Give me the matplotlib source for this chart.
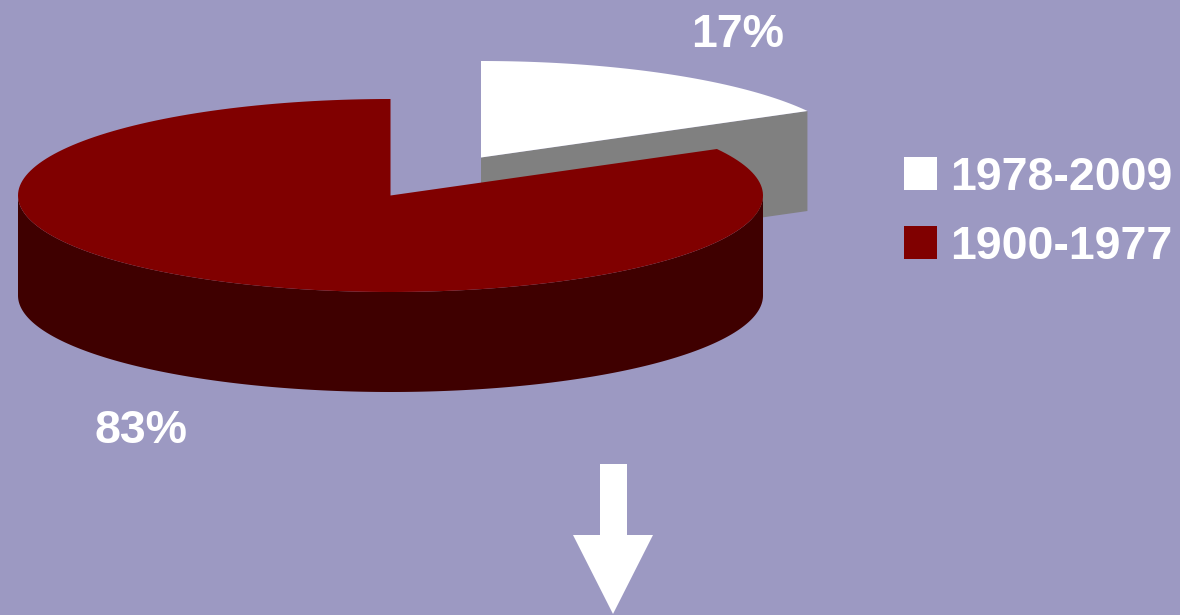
import numpy as np
import matplotlib
matplotlib.use('Agg')
import matplotlib.pyplot as plt
from matplotlib.patches import Patch, Polygon

plt.rcParams['font.family'] = ['Liberation Sans', 'DejaVu Sans']

# data
periods = ['1978-2009', '1900-1977']
shares = [17, 83]
pct_labels = ['17%', '83%']

BG = '#9c99c2'
WHITE = '#ffffff'
GREY = '#808080'
RED = '#800000'
DARK = '#3f0000'

# pie geometry, in pixels of the picture
rx, ry = 372.5, 96.5
depth = 100
cx, cy = 390.5, 195.5
off_x, off_y = 90.5, -38

fig = plt.figure(figsize=(11.8, 6.15), dpi=100, facecolor=BG)
ax = fig.add_axes([0, 0, 1, 1])
ax.set_xlim(0, 1180)
ax.set_ylim(615, 0)
ax.axis('off')


def rim(x0, y0, a, b):
    # a, b are degrees clockwise from 12 o'clock
    t = np.radians(np.linspace(a, b, 200))
    return np.column_stack([x0 + rx * np.sin(t), y0 - ry * np.cos(t)])


split = shares[0] / sum(shares) * 360

# white slice, pulled out: cut face first, then its top
wx, wy = cx + off_x, cy + off_y
edge = rim(wx, wy, split, split)[0]
ax.add_patch(Polygon([(wx, wy), edge, edge + [0, depth], (wx, wy + depth)],
                     color=GREY, lw=0, zorder=1))
ax.add_patch(Polygon(np.vstack([[(wx, wy)], rim(wx, wy, 0, split)]),
                     color=WHITE, lw=0, zorder=2))

# red slice: outer wall, then top
front = rim(cx, cy, 90, 270)
wall = np.vstack([front, (front + [0, depth])[::-1]])
ax.add_patch(Polygon(wall, color=DARK, lw=0, zorder=3))
ax.add_patch(Polygon(np.vstack([[(cx, cy)], rim(cx, cy, split, 360)]),
                     color=RED, lw=0, zorder=4))

# percent labels
ax.text(737.5, 35, pct_labels[0], color='white', fontsize=33.5, fontweight='bold',
        ha='center', va='center')
ax.text(140.5, 431, pct_labels[1], color='white', fontsize=33.5, fontweight='bold',
        ha='center', va='center')

# legend
handles = [Patch(facecolor=WHITE, edgecolor='none'), Patch(facecolor=RED, edgecolor='none')]
leg = ax.legend(handles, periods, loc='upper left', bbox_to_anchor=(904 / 1180, 1 - 155.5 / 615),
                frameon=False, labelcolor='white', borderpad=0, borderaxespad=0,
                handlelength=0.71, handleheight=0.71, handletextpad=0.28, labelspacing=0.54,
                prop={'size': 33.5, 'weight': 'bold'})

# arrow
ax.add_patch(Polygon([(600, 464), (627, 464), (627, 535), (653, 535), (613, 614),
                      (573, 535), (600, 535)], color=WHITE, lw=0, zorder=5))

fig.savefig('out.png', dpi=100, facecolor=BG)
